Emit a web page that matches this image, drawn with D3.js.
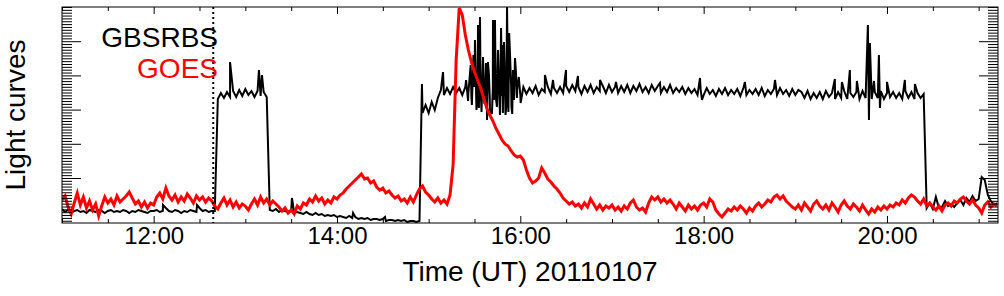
<!DOCTYPE html>
<html>
<head>
<meta charset="utf-8">
<script src="https://cdn.jsdelivr.net/npm/d3@7"></script>
<style>
  body { margin: 0; background: #fff; }
  svg { display: block; }
  text { font-family: "Liberation Sans", Arial, Helvetica, sans-serif; }
</style>
</head>
<body>
<div id="chart"></div>
<script>
// Time range of the observation (UT)
const startTime = new Date(2011, 0, 7, 11, 0, 0);
const endTime = new Date(2011, 0, 7, 21, 12, 40);
const stepMinutes = 2;   // sampling cadence of both curves

// GOES light curve, one value every 2 minutes from 11:00
const goesValues = [
  2.3,2.7,1.6,0.9,2.0,3.0,1.8,2.6,1.5,2.2,
  1.3,1.9,0.7,1.7,2.6,2.0,2.4,1.8,2.7,2.1,
  2.4,2.7,3.1,2.5,1.9,2.2,1.6,2.1,1.5,2.0,
  1.8,2.6,3.0,2.4,3.5,2.7,2.3,2.8,2.1,2.6,
  2.2,2.9,2.5,2.0,2.7,2.3,2.6,2.1,2.5,2.2,
  1.7,1.4,2.0,2.5,1.8,2.3,1.6,2.1,1.5,1.9,
  1.7,1.3,1.9,2.4,1.8,2.6,2.0,2.4,1.8,2.2,
  1.9,1.6,1.2,1.5,1.0,1.3,0.9,1.7,1.4,2.0,
  1.8,2.4,2.1,2.7,2.2,2.5,1.9,2.3,2.0,2.6,
  2.4,2.8,3.0,3.4,3.7,4.0,4.3,4.6,4.9,4.4,
  4.5,4.0,4.2,3.6,3.3,3.5,3.0,3.2,2.8,2.5,
  2.7,2.2,2.4,2.0,2.6,2.1,2.8,3.4,3.7,3.1,
  2.8,2.4,2.1,2.5,2.0,2.3,1.9,2.8,5.8,16.3,
  21.5,20.8,18.8,17.3,16.1,15.1,14.3,13.5,12.5,11.5,
  10.8,10.2,9.5,8.9,8.3,7.9,7.7,7.2,6.8,6.6,
  6.7,6.3,5.3,4.5,4.0,4.2,4.5,5.5,5.0,4.4,
  4.1,3.7,3.4,3.0,2.5,2.2,1.9,2.1,1.7,1.9,
  1.5,2.0,1.6,2.4,1.9,1.4,1.8,1.3,1.7,1.5,
  1.8,1.3,1.6,1.2,1.7,1.4,2.0,2.3,1.6,1.3,
  1.5,1.1,2.0,2.6,2.3,2.6,2.1,2.4,2.0,2.3,
  1.9,1.4,2.0,1.6,1.2,1.8,1.4,1.7,1.3,1.8,
  2.0,1.6,2.4,2.1,1.3,0.9,0.6,1.0,1.4,1.2,
  1.6,1.3,1.7,1.4,1.0,1.5,1.2,1.7,2.0,1.6,
  1.9,2.3,2.1,2.6,2.8,2.4,2.7,2.2,1.9,1.6,
  1.4,1.8,1.3,2.0,1.6,1.2,1.9,2.2,1.7,1.4,
  1.8,1.3,2.0,1.6,1.1,1.8,2.2,1.7,1.4,1.9,
  1.6,1.2,1.8,1.3,0.9,1.4,1.1,1.6,1.3,1.7,
  1.4,1.8,1.6,2.0,1.8,2.3,2.0,2.5,2.8,2.6,
  2.2,1.9,2.4,1.7,2.0,1.6,1.3,1.7,1.2,1.8,
  2.0,1.7,2.2,2.0,2.4,2.6,2.2,1.9,2.3,1.8,
  1.5,1.0,1.8,2.1,1.6,1.9,1.7
];

// GBSRBS light curve, one value every 2 minutes from 11:00
const gbsrbsValues = [
  1.4,1.1,1.3,1.0,1.2,1.3,1.1,1.2,1.0,1.3,
  1.2,1.1,1.3,1.2,1.0,1.2,1.3,1.1,1.2,1.1,
  1.3,1.2,1.0,1.2,1.1,1.3,1.2,1.1,1.0,1.2,
  1.2,1.3,1.1,1.2,1.5,1.2,1.1,1.3,1.2,1.0,
  1.2,1.1,1.3,1.2,1.1,1.5,1.2,1.3,1.1,1.2,
  1.2,12.4,13.0,12.5,13.1,12.6,13.2,12.6,13.3,12.7,
  13.4,12.8,13.2,12.6,13.2,12.7,13.1,12.6,1.3,1.2,
  1.4,1.1,1.3,1.2,1.1,1.2,1.0,1.1,1.0,0.9,
  1.1,0.9,0.8,1.0,0.8,0.9,0.7,0.8,0.7,0.8,
  0.6,0.7,0.6,0.5,0.7,0.5,0.6,0.4,0.5,0.4,
  0.5,0.3,0.4,0.4,0.3,0.4,0.2,0.3,0.3,0.2,
  0.3,0.2,0.3,0.1,0.2,0.2,0.1,0.2,11.0,11.8,
  11.0,12.1,11.3,12.5,13.3,12.8,13.5,12.9,13.6,13.0,
  13.5,12.8,13.6,13.0,12.6,13.6,12.5,13.5,12.7,13.6,
  12.6,13.4,12.5,13.6,12.7,13.5,12.6,13.6,12.8,13.4,
  12.8,13.6,12.9,13.5,13.0,13.7,12.8,13.4,13.1,13.6,
  12.9,13.5,13.0,13.6,13.0,13.7,13.1,13.8,13.2,13.6,
  12.9,13.7,13.1,13.8,13.0,13.6,13.2,13.7,13.0,13.8,
  13.1,13.6,13.0,13.7,13.1,13.8,13.0,13.7,13.2,13.9,
  13.1,13.6,13.0,13.8,13.2,13.7,13.0,13.6,13.1,13.8,
  13.0,13.5,13.1,13.6,12.9,13.5,13.0,13.4,12.8,13.4,
  12.8,13.5,12.9,13.3,12.7,13.4,12.9,13.5,12.8,13.3,
  12.9,13.4,12.7,13.5,12.8,13.3,12.9,13.4,12.8,13.5,
  12.7,13.3,12.9,13.4,12.8,13.5,12.9,13.3,12.7,13.4,
  12.8,13.3,13.1,12.5,13.2,12.4,13.0,12.5,13.1,12.4,
  13.2,12.6,13.0,12.4,13.1,12.5,13.2,12.4,13.0,12.6,
  13.1,12.4,13.2,12.5,13.0,12.4,13.1,12.5,13.2,12.4,
  13.0,12.6,13.1,12.5,13.0,12.4,13.2,12.5,13.1,12.4,
  13.0,12.5,12.9,1.5,2.0,1.4,2.6,1.5,1.6,2.2,
  1.7,1.9,1.6,2.0,2.3,1.8,2.5,2.1,2.7,2.2,
  2.4,4.6,4.3,2.8,2.2,1.8,2.0
];

// Short GBSRBS spikes and bursts (minutes after 11:00, value)
const spikeMinutes = [
  66.1, 88.4, 110.0, 128.9, 130.9, 150.5, 190.5, 211.4, 235.6, 249.4,
  264.5, 265.8, 267.5, 268.3, 269.3, 270.3, 271.3, 272.3, 272.9, 273.6,
  274.6, 275.6, 276.6, 277.5, 278.2, 278.8, 279.4, 280.1, 281.4, 282.1,
  282.7, 283.4, 284.7, 285.4, 286.7, 287.4, 288.0, 288.6, 289.3, 290.3,
  290.8, 291.3, 292.2, 292.7, 293.2, 294.2, 294.7, 295.2, 295.8, 296.5,
  297.1, 297.8, 299.0, 300.2, 316.1, 321.4, 329.9, 337.7, 352.1, 362.6,
  391.4, 417.6, 418.9, 447.0, 466.7, 505.9, 510.5, 515.7, 520.3, 527.5,
  528.2, 528.8, 531.5, 534.7, 535.4, 540.0, 551.7, 558.3
];
const spikeValues = [
  1.8, 1.8, 16.1, 15.3, 14.8, 2.5, 1.0, 0.6, 13.9, 15.1,
  14.3, 12.2, 15.8, 11.8, 16.8, 18.3, 11.3, 19.8, 11.5, 20.6,
  11.1, 16.6, 11.9, 16.0, 10.3, 16.1, 15.0, 11.3, 10.9, 20.3,
  12.3, 20.3, 11.6, 17.3, 10.8, 19.5, 17.8, 11.0, 18.1, 10.8,
  11.6, 21.6, 11.1, 19.0, 17.1, 11.6, 10.9, 15.3, 12.3, 16.5,
  15.2, 12.5, 14.6, 12.0, 14.8, 14.3, 15.3, 14.7, 14.3, 14.1,
  14.0, 14.5, 12.3, 14.1, 14.3, 14.4, 14.1, 15.3, 14.2, 19.8,
  10.3, 18.0, 14.2, 16.8, 11.5, 14.1, 14.3, 13.9
];

const markerTime = new Date(2011, 0, 7, 12, 39);
const yMajorTicks = [4.5, 7.92, 11.34, 14.76, 18.18];
const legendLabels = ["GBSRBS", "GOES"];
const legendColors = ["#000", "#ff0000"];

const width = 1004, height = 296;
const margin = { top: 7, right: 6, bottom: 73, left: 62 };
const plotW = width - margin.left - margin.right;
const plotH = height - margin.top - margin.bottom;

const svg = d3.select("#chart").append("svg")
  .attr("width", width)
  .attr("height", height);

const x = d3.scaleTime().domain([startTime, endTime]).range([0, plotW]);
const y = d3.scaleLinear().domain([0, 21.6]).range([plotH, 0]);

const g = svg.append("g").attr("transform", `translate(${margin.left},${margin.top})`);

g.append("clipPath").attr("id", "plotClip")
  .append("rect").attr("width", plotW).attr("height", plotH);

// build series
const sampleTime = i => d3.timeMinute.offset(startTime, i * stepMinutes);
const goesData = goesValues.map((v, i) => ({ t: sampleTime(i), v }));
const gbsData = gbsrbsValues.map((v, i) => ({ t: sampleTime(i), v }))
  .concat(spikeMinutes.map((m, i) => ({ t: new Date(+startTime + m * 60000), v: spikeValues[i] })))
  .sort((a, b) => a.t - b.t);

const line = d3.line().x(d => x(d.t)).y(d => y(d.v));

const curves = g.append("g").attr("clip-path", "url(#plotClip)");
curves.append("path")
  .datum(gbsData)
  .attr("fill", "none")
  .attr("stroke", "#000")
  .attr("stroke-width", 2)
  .attr("d", line);
curves.append("path")
  .datum(goesData)
  .attr("fill", "none")
  .attr("stroke", "#ff0000")
  .attr("stroke-width", 3)
  .attr("d", line);

// dotted marker
g.append("line")
  .attr("x1", x(markerTime)).attr("x2", x(markerTime))
  .attr("y1", 0).attr("y2", plotH)
  .attr("stroke", "#000")
  .attr("stroke-width", 2)
  .attr("stroke-dasharray", "2,3");

// x axes (ticks point inward)
const halfHours = d3.timeMinute.every(30).range(startTime, endTime);
const twoHours = halfHours.filter(d => d.getMinutes() === 0 && d.getHours() % 2 === 0);
const minorX = halfHours.filter(d => !twoHours.some(h => +h === +d));

function xAxisGroup(axisFn, ty, values, size, labels) {
  const ax = axisFn(x).tickValues(values).tickSize(-size).tickPadding(4)
    .tickFormat(labels ? d3.timeFormat("%H:%M") : "");
  const sel = g.append("g").attr("transform", `translate(0,${ty})`).call(ax);
  sel.select(".domain").remove();
  sel.selectAll("line").attr("stroke", "#000");
  return sel;
}
xAxisGroup(d3.axisBottom, plotH, minorX, 4, false);
const xb = xAxisGroup(d3.axisBottom, plotH, twoHours, 7, true);
xb.selectAll("text").attr("font-size", 24).attr("fill", "#000")
  .style("font-family", '"Liberation Sans", Arial, sans-serif');
xAxisGroup(d3.axisTop, 0, minorX, 4, false);
xAxisGroup(d3.axisTop, 0, twoHours, 7, false);

// y axes (no labels, dense minor ticks)
const minorStep = (yMajorTicks[1] - yMajorTicks[0]) / 12;
const yMinor = d3.range(yMajorTicks[0], 0, -minorStep)
  .concat(d3.range(yMajorTicks[0], 21.6, minorStep))
  .filter(v => !yMajorTicks.some(m => Math.abs(m - v) < 1e-6));

function yAxisGroup(axisFn, tx, values, size) {
  const ax = axisFn(y).tickValues(values).tickSize(-size).tickFormat("");
  const sel = g.append("g").attr("transform", `translate(${tx},0)`).call(ax);
  sel.select(".domain").remove();
  sel.selectAll("line").attr("stroke", "#000");
}
yAxisGroup(d3.axisLeft, 0, yMinor, 10);
yAxisGroup(d3.axisLeft, 0, yMajorTicks, 19);
yAxisGroup(d3.axisRight, plotW, yMinor, 10);
yAxisGroup(d3.axisRight, plotW, yMajorTicks, 19);

// frame
g.append("rect")
  .attr("width", plotW).attr("height", plotH)
  .attr("fill", "none").attr("stroke", "#000").attr("stroke-width", 1);

// legend
g.selectAll(".legend")
  .data(legendLabels)
  .join("text")
  .attr("class", "legend")
  .attr("x", 156)
  .attr("y", (d, i) => 40 + i * 31)
  .attr("text-anchor", "end")
  .attr("font-size", 28)
  .attr("fill", (d, i) => legendColors[i])
  .text(d => d);

// axis titles
svg.append("text")
  .attr("x", margin.left + plotW / 2)
  .attr("y", 281)
  .attr("text-anchor", "middle")
  .attr("font-size", 28)
  .text("Time (UT) 20110107");

svg.append("text")
  .attr("transform", `translate(25,${margin.top + plotH / 2}) rotate(-90)`)
  .attr("text-anchor", "middle")
  .attr("font-size", 28)
  .text("Light curves");
</script>
</body>
</html>
